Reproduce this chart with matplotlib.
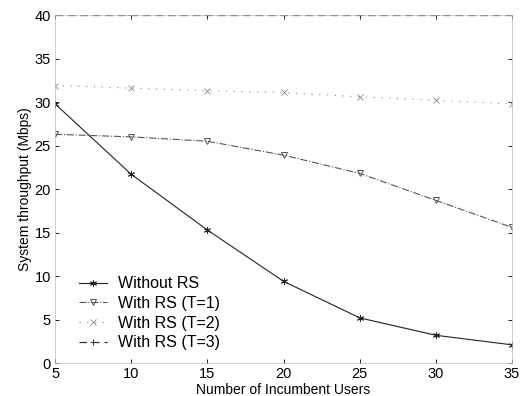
import matplotlib
matplotlib.use("Agg")
import matplotlib.pyplot as plt

plt.rcParams["font.family"] = ["Liberation Sans", "DejaVu Sans"]

users = [5, 10, 15, 20, 25, 30, 35]
without_rs = [29.8, 21.7, 15.3, 9.4, 5.2, 3.2, 2.1]
rs_t1 = [26.3, 26.0, 25.5, 23.9, 21.8, 18.7, 15.6]
rs_t2 = [31.9, 31.6, 31.3, 31.1, 30.6, 30.2, 29.8]
rs_t3 = [40.0, 40.0, 40.0, 40.0, 40.0, 40.0, 40.0]

fig = plt.figure(figsize=(5.29, 3.96), dpi=100)
ax = fig.add_axes([0.104, 0.083, 0.864, 0.879])

ax.plot(users, without_rs, color="#222222", lw=0.8, marker=(6, 2, 0), ms=5,
        mew=0.7, label="Without RS")
ax.plot(users, rs_t1, color="#555555", lw=0.8, ls="-.", marker="v", ms=5,
        mfc="none", mew=0.7, label="With RS (T=1)")
ax.plot(users, rs_t2, color="#888888", lw=0.8, ls=(0, (1, 6)), marker="x", ms=4,
        mew=0.6, label="With RS (T=2)")
ax.plot(users, rs_t3, color="#333333", lw=0.9, ls=(0, (6, 4)), marker="+", ms=5,
        mew=0.7, label="With RS (T=3)")

ax.set_xlim(5, 35)
ax.set_ylim(0, 40)
ax.set_xticks(users)
ax.set_yticks(range(0, 41, 5))
ax.tick_params(direction="in", length=3, width=0.6, top=True, right=True,
               labelsize=10.5, pad=3)
for s in ax.spines.values():
    s.set_linewidth(0.5)
    s.set_color("#bbbbbb")

ax.set_xlabel("Number of Incumbent Users", fontsize=10, labelpad=1)
ax.set_ylabel("System throughput (Mbps)", fontsize=10, labelpad=2)

ax.legend(loc="lower left", bbox_to_anchor=(0.02, -0.005), frameon=False,
          fontsize=11.5, handlelength=1.8, handletextpad=0.7,
          labelspacing=0.3)

fig.savefig("out.png", dpi=100)
